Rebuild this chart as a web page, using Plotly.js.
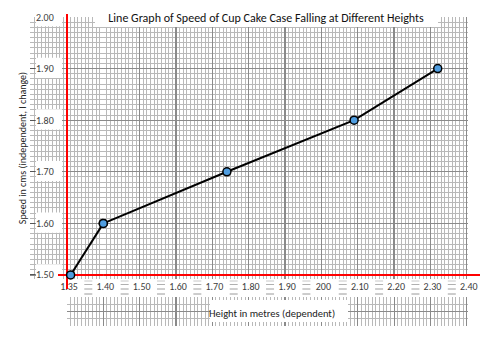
<!DOCTYPE html>
<html>
<head>
<meta charset="utf-8">
<script src="https://cdn.plot.ly/plotly-3.0.1.min.js"></script>
<style>html,body{margin:0;padding:0;background:#fff;}#chart{width:500px;height:352px;}</style>
</head>
<body>
<div id="chart"></div>
<script>
// ---- data ----
const heights = [1.355, 1.40, 1.74, 2.09, 2.32];   // Height in metres
const speeds  = [1.50, 1.60, 1.70, 1.80, 1.90];    // Speed
const breakAt = 1.40;                               // axis is compressed between 1.35 and 1.40
const xFirstTickVals = [1.35];
const xFirstTickText = ['1.35'];
const xTickVals = [1.40, 1.50, 1.60, 1.70, 1.80, 1.90, 2.00, 2.10, 2.20, 2.30, 2.40];
const xTickText = ['1.40', '1.50', '1.60', '1.70', '1.80', '1.90', '200', '2.10', '2.20', '2.30', '2.40'];
const yTickVals = [1.50, 1.60, 1.70, 1.80, 1.90, 2.00];
const yTickText = ['1.50', '1.60', '1.70', '1.80', '1.90', '2.00'];
const titleText = 'Line Graph of Speed of Cup Cake Case Falling at Different Heights';
const xTitle = 'Height in metres (dependent)';
const yTitle = 'Speed in cms (independent, I change)';

const FONT = 'Carlito, Lato, sans-serif';
const MINOR = '#b9b9b9', MAJOR = '#8a8a8a', RED = '#ff0000';

// plot-area geometry (pixels) used for paper-referenced decorations
const PL = 30, PW = 438, PT = 17, PH = 309;
const px2paperX = p => (p - PL) / PW;
const px2paperY = p => (PT + PH - p) / PH;

const segA_x = [], segA_y = [], segB_x = [], segB_y = [];
heights.forEach((h, i) => {
  if (h <= breakAt) { segA_x.push(h); segA_y.push(speeds[i]); }
  if (h >= breakAt) { segB_x.push(h); segB_y.push(speeds[i]); }
});

const lineStyle = {color: '#000', width: 2};
const markerStyle = {symbol: 'circle', size: 8, color: '#4f9de0', line: {color: '#000', width: 1.5}};

const traces = [
  {x: segA_x, y: segA_y, xaxis: 'x', yaxis: 'y', type: 'scatter', mode: 'lines+markers',
   line: lineStyle, marker: markerStyle, cliponaxis: false, showlegend: false, hoverinfo: 'skip'},
  {x: segB_x, y: segB_y, xaxis: 'x2', yaxis: 'y', type: 'scatter', mode: 'lines+markers',
   line: lineStyle, marker: markerStyle, cliponaxis: false, showlegend: false, hoverinfo: 'skip'},
  // empty trace so the lower strip of graph paper gets its own subplot
  {x: [], y: [], xaxis: 'x3', yaxis: 'y2', type: 'scatter', mode: 'lines', showlegend: false, hoverinfo: 'skip'}
];

const shapes = [];
// white boxes behind y tick labels (between grid and data)
yTickVals.forEach(v => {
  shapes.push({type: 'rect', layer: 'between', xref: 'x', yref: 'y',
    x0: 1.3073, x1: 1.3431, y0: v - 0.018, y1: Math.min(v + 0.021, 2.05),
    fillcolor: '#ffffff', line: {width: 0}});
});
// red axes lines
shapes.push({type: 'line', layer: 'between', xref: 'x', yref: 'y', x0: 1.35, x1: 1.35, y0: 1.40, y1: 2.10,
  line: {color: RED, width: 2}});
shapes.push({type: 'line', layer: 'between', xref: 'x', yref: 'y', x0: 1.3376, x1: 1.45, y0: 1.50, y1: 1.50,
  line: {color: RED, width: 2}});
shapes.push({type: 'line', layer: 'between', xref: 'x2', yref: 'y', x0: 1.39, x1: 2.50, y0: 1.50, y1: 1.50,
  line: {color: RED, width: 2}});
// extensions of the red lines outside the plotting area
shapes.push({type: 'line', layer: 'above', xref: 'paper', yref: 'paper', x0: px2paperX(67), x1: px2paperX(67),
  y0: px2paperY(289), y1: px2paperY(279), line: {color: RED, width: 2}});
shapes.push({type: 'line', layer: 'above', xref: 'paper', yref: 'paper', x0: px2paperX(67), x1: px2paperX(67),
  y0: px2paperY(17.5), y1: px2paperY(14), line: {color: RED, width: 2}});
shapes.push({type: 'line', layer: 'above', xref: 'paper', yref: 'paper', x0: px2paperX(467), x1: px2paperX(480),
  y0: px2paperY(275), y1: px2paperY(275), line: {color: RED, width: 2}});
// white box behind the title
shapes.push({type: 'rect', layer: 'above', xref: 'paper', yref: 'paper', x0: px2paperX(95), x1: px2paperX(438),
  y0: px2paperY(27), y1: px2paperY(14), fillcolor: '#ffffff', line: {width: 0}});
// white box behind the x title in the lower strip
shapes.push({type: 'rect', layer: 'above', xref: 'paper', yref: 'paper', x0: px2paperX(210), x1: px2paperX(348),
  y0: px2paperY(322), y1: px2paperY(300), fillcolor: '#ffffff', line: {width: 0}});
// small graph-paper fragments showing between the x tick labels
xTickVals.forEach(v => {
  const cx = 103.3 + (v - 1.40) * 363.5 - 15;
  [[281, '#c8c8c8'], [284.5, '#b0b0b0'], [289, '#a0a0a0'], [294, '#9a9a9a']].forEach(([yy, col]) => {
    shapes.push({type: 'line', layer: 'above', xref: 'paper', yref: 'paper',
      x0: px2paperX(cx - 4), x1: px2paperX(cx + 4), y0: px2paperY(yy), y1: px2paperY(yy),
      line: {color: col, width: 1}});
  });
});

const baseGrid = {showgrid: true, gridcolor: MAJOR, gridwidth: 1.2, zeroline: false, showline: false,
  fixedrange: true};

const layout = {
  width: 500, height: 352,
  margin: {l: PL, r: 500 - PL - PW, t: PT, b: 352 - PT - PH, pad: 0},
  paper_bgcolor: '#fff', plot_bgcolor: '#fff',
  font: {family: FONT, color: '#404040', size: 10},
  showlegend: false,
  title: {text: titleText, x: 0.532, xanchor: 'center', y: 0.95, yanchor: 'middle',
    font: {family: FONT, size: 12, color: '#111'}},
  xaxis: Object.assign({}, baseGrid, {
    domain: [0, 0.16735], range: [1.2990, 1.40], anchor: 'y',
    tickmode: 'array', tickvals: xFirstTickVals, ticktext: xFirstTickText, ticks: '',
    ticklabelshift: 2,
    tickfont: {family: FONT, size: 10, color: '#404040'},
    minor: {showgrid: true, gridcolor: MINOR, gridwidth: 1, tickmode: 'linear', tick0: 1.35, dtick: 0.005}
  }),
  xaxis2: Object.assign({}, baseGrid, {
    domain: [0.16735, 1], range: [1.40, 2.4033], anchor: 'y',
    tickmode: 'array', tickvals: xTickVals, ticktext: xTickText, ticks: '',
    ticklabelshift: 2,
    tickfont: {family: FONT, size: 10, color: '#404040'},
    minor: {showgrid: true, gridcolor: MINOR, gridwidth: 1, tickmode: 'linear', tick0: 1.40, dtick: 0.01}
  }),
  yaxis: Object.assign({}, baseGrid, {
    domain: [0.1521, 1], range: [1.4922, 2.00], anchor: 'x',
    tickmode: 'array', tickvals: yTickVals, ticktext: yTickText,
    ticks: 'inside', ticklen: 5, tickcolor: '#555', tickwidth: 1,
    ticklabelposition: 'inside', ticklabeloverflow: 'allow',
    tickfont: {family: FONT, size: 10, color: '#404040'},
    title: {text: yTitle, standoff: 7, font: {family: FONT, size: 10, color: '#222'}},
    minor: {showgrid: true, gridcolor: MINOR, gridwidth: 1, tickmode: 'linear', tick0: 1.50, dtick: 0.01}
  }),
  xaxis3: Object.assign({}, baseGrid, {
    domain: [px2paperX(67), 1], range: [1.3001, 2.4033], anchor: 'y2',
    tickmode: 'linear', tick0: 1.40, dtick: 0.1, showticklabels: false, ticks: '',
    minor: {showgrid: true, gridcolor: MINOR, gridwidth: 1, tickmode: 'linear', tick0: 1.40, dtick: 0.01}
  }),
  yaxis2: Object.assign({}, baseGrid, {
    domain: [0, px2paperY(297)], range: [0, 1], anchor: 'x3',
    tickmode: 'linear', tick0: 0, dtick: 0.5, showticklabels: false, ticks: '',
    minor: {showgrid: true, gridcolor: MINOR, gridwidth: 1, tickmode: 'linear', tick0: 0, dtick: 0.25}
  }),
  shapes: shapes,
  annotations: [
    {text: xTitle, xref: 'paper', yref: 'paper', x: px2paperX(272), y: px2paperY(313), xanchor: 'center', yanchor: 'middle',
     showarrow: false, font: {family: FONT, size: 10.5, color: '#222'}}
  ]
};

Plotly.newPlot('chart', traces, layout, {displayModeBar: false, staticPlot: true});
</script>
</body>
</html>
